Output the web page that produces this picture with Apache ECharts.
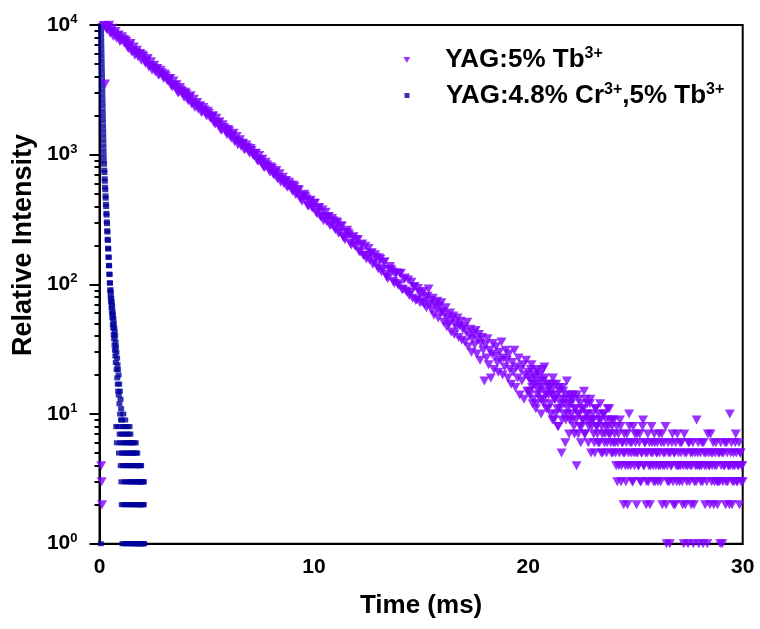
<!DOCTYPE html>
<html><head><meta charset="utf-8">
<script src="https://cdn.jsdelivr.net/npm/echarts@6/dist/echarts.min.js"></script>
<style>html,body{margin:0;padding:0;background:#fff}#c{width:760px;height:629px}</style>
</head><body><div id="c"></div>
<script>
// ---- text / ticks ----
const seriesNames = ['YAG:5% Tb3+', 'YAG:4.8% Cr3+,5% Tb3+'];
const xTicks = [0, 10, 20, 30];
const yMajorTicks = [1, 10, 100, 1000, 10000];
const yMinorTicks = [2,3,4,5,6,7,8,9,20,30,40,50,60,70,80,90,200,300,400,500,600,700,800,900,2000,3000,4000,5000,6000,7000,8000,9000];

// ---- YAG:5% Tb3+ (time in ms, counts) ----
const tbPreTimes = [0.08, 0.10, 0.12, 0.26];
const tbPreValues = [4, 3, 2, 3500];
const tbEarlyStart = 0.2, tbEarlyStep = 0.1;
const tbEarlyValues = [
 9900, 9440, 9705, 8654, 9440, 8529, 7918, 8386,
 7566, 7772, 7665, 6780, 6969, 6213, 6778, 6124, 5685, 6021,
 5880, 5200, 5346, 4766, 5199, 4698, 4361, 4619, 4167, 4281,
 3860, 4046, 3688, 3859, 3346, 3441, 3461, 2998, 3147, 2894,
 3031, 2681, 2756, 2457, 2681, 2422, 2249, 2382, 2149, 2207,
 1990, 2085, 1901, 1990, 1725, 1775, 1784, 1545, 1622, 1493,
 1562, 1382, 1421, 1266, 1381, 1248, 1159, 1227, 1108, 1137,
 1026, 1075, 980, 1026, 889, 915, 920, 797, 836, 769,
 805, 712, 732, 652, 712, 644, 598, 632, 570, 586,
 523, 565, 501, 534, 454, 481, 479, 406, 440, 393,
 424, 360, 389, 333, 375, 325, 305, 333, 288, 309,
 264, 297, 255, 280, 229, 251, 249, 207, 229, 200,
 222, 181, 202, 168, 197, 166, 154, 175, 148, 162,
 132, 156, 130, 149, 114, 130, 131, 105, 119, 101,
 122, 92, 109, 89, 108, 86, 78, 96, 76, 87
];
const tbEarlyMidStart = 0.25, tbEarlyMidStep = 0.1;
const tbEarlyMidValues = [
 9850, 9190, 9950, 8783, 8147, 8898, 8280, 7455,
 8132, 7274, 7467, 6599, 7190, 6307, 5849, 6389, 5945, 5352,
 5728, 5062, 5516, 4837, 4487, 4900, 4561, 4106, 4480, 4006,
 4192, 3749, 3849, 3402, 3706, 3250, 3015, 3294, 3064, 2759,
 2954, 2610, 2844, 2494, 2314, 2526, 2351, 2117, 2310, 2066,
 2161, 1933, 1984, 1754, 1911, 1676, 1554, 1698, 1580, 1423,
 1523, 1345, 1466, 1285, 1192, 1302, 1212, 1091, 1190, 1064,
 1114, 997, 1023, 904, 985, 864, 802, 876, 815, 733,
 784, 694, 755, 663, 615, 671, 625, 562, 613, 549,
 580, 493, 538, 466, 437, 496, 458, 400, 445, 386,
 420, 351, 389, 331, 310, 360, 332, 284, 322, 275,
 304, 248, 283, 235, 221, 261, 240, 201, 233, 196,
 221, 177, 205, 167, 157, 189, 174, 143, 169, 139,
 160, 125, 148, 119, 111, 137, 126, 102, 123, 98,
 121, 91, 112, 87, 82, 104, 96, 75, 93, 72
];
const tbLateStart = 15.0, tbLateStep = 0.05;
const tbLateValues = [
 84, 73, 88, 70, 79, 66, 81, 92, 69, 75, 63, 78, 58, 71, 66, 74, 55, 68, 61, 72,
 62, 51, 58, 66, 47, 55, 49, 60, 43, 53, 57, 41, 50, 46, 55, 39, 48, 52, 37, 45,
 47, 36, 43, 51, 33, 40, 45, 30, 38, 42, 34, 44, 29, 37, 41, 26, 35, 39, 31, 18,
 34, 27, 38, 24, 31, 19, 29, 35, 22, 28, 33, 25, 21, 30, 26, 36, 20, 27, 23, 31,
 26, 19, 29, 22, 17, 25, 21, 31, 16, 23, 19, 27, 14, 22, 18, 24, 13, 20, 26, 15,
 21, 15, 18, 24, 12, 17, 19, 11, 22, 14, 16, 20, 10, 18, 13, 23, 15, 11, 17, 14,
 16, 10, 14, 19, 9, 13, 17, 11, 8, 15, 12, 5, 16, 10, 13, 9, 18, 11, 7, 14,
 12, 9, 14, 7, 11, 4, 10, 13, 8, 6, 11, 9, 15, 7, 10, 12, 6, 9, 13, 8,
 10, 7, 5, 11, 8, 6, 9, 12, 5, 7, 10, 6, 8, 5, 11, 7, 9, 6, 8, 5,
 9, 6, 4, 3, 7, 5, 8, 4, 6, 2, 5, 3, 7, 4, 10, 6, 5, 3, 8, 4,
 6, 2, 5, 4, 7, 3, 5, 9, 4, 6, 2, 5, 3, 6, 4, 8, 5, 3, 6, 4,
 5, 3, 7, 4, 6, 2, 5, 4, 8, 1, 3, 5, 1, 4, 6, 3, 5, 2, 4, 7,
 5, 3, 4, 6, 2, 1, 5, 4, 3, 1, 6, 4, 2, 5, 1, 3, 4, 9, 5, 1,
 4, 3, 6, 1, 5, 2, 4, 1, 5, 4, 7, 3, 5, 2, 4, 6, 3, 3, 5, 1,
 4, 1, 5, 4, 2, 6, 3, 4, 10, 5, 2, 4, 3, 6, 5, 3, 4, 2, 5, 4,
 3
];
const tbTailStart = 20.025, tbTailStep = 0.05;
const tbTailValues = [
 19, 14, 22, 16, 13, 20, 17, 12, 21, 15, 18, 13, 16, 22, 12, 19, 14, 17, 11, 16,
 12, 15, 9, 17, 13, 10, 14, 8, 16, 11, 13, 9, 15, 12, 6, 14, 10, 12, 9, 13,
 10, 13, 8, 11, 9, 14, 7, 10, 12, 8, 9, 11, 7, 13, 9, 10, 8, 12, 5, 9,
 9, 6, 11, 8, 7, 10, 6, 9, 8, 5, 10, 7, 9, 6, 8, 11, 7, 5, 9, 6,
 7, 5, 8, 6, 4, 9, 3, 6, 5, 7, 4, 6, 2, 5, 8, 4, 6, 3, 5, 7,
 5, 7, 4, 6, 3, 5, 8, 4, 6, 5, 3, 7, 4, 2, 5, 6, 4, 7, 3, 5,
 6, 4, 5, 3, 7, 4, 6, 5, 2, 4, 6, 3, 5, 4, 7, 2, 5, 6, 3, 4,
 4, 6, 5, 3, 4, 7, 2, 5, 4, 6, 3, 5, 4, 6, 2, 5, 3, 4, 6, 4,
 5, 4, 3, 6, 4, 5, 3, 7, 4, 2, 5, 4, 6, 3, 5, 4, 2, 5, 3, 6,
 5, 3, 4, 6, 3, 5, 4, 2, 4, 6, 3, 5, 4, 7, 3, 4, 6, 5, 3, 4
];

// ---- YAG:4.8% Cr3+,5% Tb3+ (time in ms, counts) ----
const crFastStart = 0.060, crFastStep = 0.005;
const crFastValues = [
 1, 9900, 9060, 8290, 7580, 6940, 6350, 5810, 5310, 4860,
 4450, 4070, 3720, 3410, 3120, 2850, 2610, 2390, 2180, 2000,
 1830, 1670, 1530, 1400, 1280, 1170, 1070, 980, 900
];
const crSlowStart = 0.21, crSlowStep = 0.01;
const crSlowValues = [
 845, 760, 728, 652, 624, 561, 536, 481, 462, 414,
 398, 353, 342, 303, 294, 259, 253, 223, 218, 190,
 187, 163, 161, 140, 139, 120, 119, 103, 102, 89,
 91, 80, 86, 73, 78, 66, 73, 60, 68, 55,
 62, 49, 58, 46, 54, 41, 50, 38, 46, 34,
 43, 31, 40, 28, 36, 25, 33, 8, 30, 22,
 6, 27, 19, 24, 17, 22, 15, 8, 20, 14,
 5, 17, 12, 7, 15, 10, 6, 13, 4, 9,
 11, 3, 7, 2, 9, 5, 1, 8, 4, 6,
 10, 2, 5, 8, 1, 7, 3, 6, 4, 9,
 2, 5, 8, 1, 4, 7, 3, 6, 2, 5,
 8, 1, 4, 6, 3, 7, 2, 5, 1, 8,
 4, 6, 3, 7, 2, 5, 1, 4, 6, 3,
 2, 5, 1, 4, 6, 3, 2, 5, 1, 4,
 3, 6, 2, 5, 1, 4, 3, 2, 6, 1,
 5, 3, 4, 2, 1, 5, 3, 4, 2, 1,
 3, 4, 2, 1, 3, 4, 2, 1, 3, 4,
 2, 1, 3, 4, 2, 1, 3, 2, 1, 3,
 2, 1, 3, 2, 1, 2, 3, 1
];

function sampled(start, step, values) {
  return values.map((v, i) => [+(start + i * step).toFixed(4), v]);
}
const tbData = tbPreTimes.map((t, i) => [t, tbPreValues[i]])
  .concat(sampled(tbEarlyStart, tbEarlyStep, tbEarlyValues))
  .concat(sampled(tbEarlyMidStart, tbEarlyMidStep, tbEarlyMidValues))
  .concat(sampled(tbLateStart, tbLateStep, tbLateValues))
  .concat(sampled(tbTailStart, tbTailStep, tbTailValues));
const crData = sampled(crFastStart, crFastStep, crFastValues)
  .concat(sampled(crSlowStart, crSlowStep, crSlowValues));

const FONT = '"Liberation Sans", Arial, sans-serif';
const chart = echarts.init(document.getElementById('c'), null, {renderer: 'canvas'});

function legendFmt(name) {
  if (name === seriesNames[0]) return '{f|YAG:5% Tb}{s|3+}';
  return '{g|YAG:4.8% Cr}{s|3+}{t|,5% Tb}{s|3+}';
}
const legendRich = {
  f: {fontFamily: FONT, fontWeight: 'bold', fontSize: 26, color: '#000', lineHeight: 28, padding: [0, 0, 0, 30]},
  g: {fontFamily: FONT, fontWeight: 'bold', fontSize: 26, color: '#000', lineHeight: 28, padding: [0, 0, 0, 31.5]},
  t: {fontFamily: FONT, fontWeight: 'bold', fontSize: 26, color: '#000', lineHeight: 28},
  s: {fontFamily: FONT, fontWeight: 'bold', fontSize: 16, color: '#000', lineHeight: 16, verticalAlign: 'top'}
};

chart.setOption({
  animation: false,
  backgroundColor: '#fff',
  grid: {left: 99.5, right: 17.3, top: 25, bottom: 85.3, show: true, borderColor: '#000', borderWidth: 2, backgroundColor: 'transparent'},
  xAxis: {
    type: 'value', min: xTicks[0], max: xTicks[xTicks.length - 1], interval: 10,
    axisLine: {show: true, onZero: false, lineStyle: {color: '#000', width: 2}},
    axisTick: {show: false},
    splitLine: {show: false},
    axisLabel: {color: '#000', fontSize: 21, fontWeight: 'bold', fontFamily: FONT, margin: 13},
    name: 'Time (ms)', nameLocation: 'middle', nameGap: 49,
    nameTextStyle: {fontSize: 26, fontWeight: 'bold', color: '#000', fontFamily: FONT}
  },
  yAxis: [{
    type: 'log', logBase: 10, min: 1, max: 10000,
    axisLine: {show: true, onZero: false, lineStyle: {color: '#000', width: 2}},
    axisTick: {show: true, length: 10, customValues: yMajorTicks, lineStyle: {color: '#000', width: 2}},
    splitLine: {show: false},
    axisLabel: {
      customValues: yMajorTicks, margin: 22,
      formatter: v => '{b|10}{s|' + Math.round(Math.log10(v)) + '}',
      rich: {
        b: {fontFamily: FONT, fontWeight: 'bold', fontSize: 21, color: '#000', lineHeight: 24},
        s: {fontFamily: FONT, fontWeight: 'bold', fontSize: 13, color: '#000', lineHeight: 14, verticalAlign: 'top'}
      }
    }
  }, {
    type: 'log', logBase: 10, min: 1, max: 10000, position: 'left',
    axisLine: {show: false},
    axisLabel: {show: false},
    splitLine: {show: false},
    axisTick: {show: true, length: 5, customValues: yMinorTicks, lineStyle: {color: '#000', width: 2}}
  }],
  legend: [{
    data: [{name: seriesNames[0], icon: 'path://M0,0 L10,0 L5,9 Z'}], orient: 'vertical', left: 403.5, top: 46, padding: 0,
    itemWidth: 7, itemHeight: 6, formatter: legendFmt, textStyle: {rich: legendRich}
  }, {
    data: [{name: seriesNames[1], icon: 'rect'}], orient: 'vertical', left: 404.5, top: 81.5, padding: 0,
    itemWidth: 5, itemHeight: 5, formatter: legendFmt, textStyle: {rich: legendRich}
  }],
  graphic: [{
    type: 'text', x: 24, y: 245, rotation: Math.PI / 2,
    style: {text: 'Relative Intensity', font: 'bold 27px ' + FONT, fill: '#000', align: 'center', verticalAlign: 'middle'}
  }],
  series: [{
    type: 'scatter', name: seriesNames[0], data: tbData,
    symbol: 'triangle', symbolRotate: 180, symbolSize: [10, 9],
    itemStyle: {color: '#8000FF'}, z: 3
  }, {
    type: 'scatter', name: seriesNames[1], data: crData,
    symbol: 'rect', symbolSize: [6, 5],
    itemStyle: {color: '#00009C'}, z: 2
  }]
});
</script></body></html>
